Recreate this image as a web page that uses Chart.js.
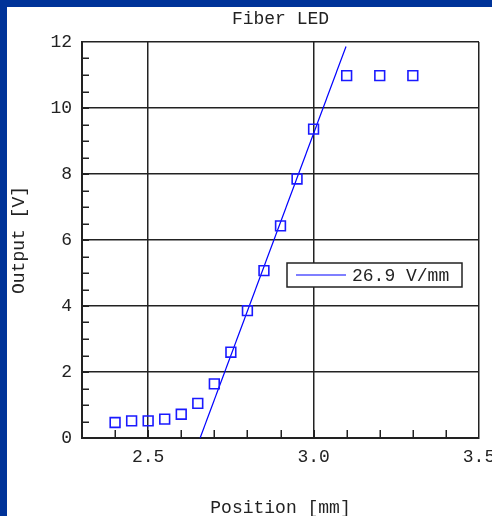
<!DOCTYPE html>
<html>
<head>
<meta charset="utf-8">
<script src="https://cdn.jsdelivr.net/npm/chart.js@4/dist/chart.umd.min.js"></script>
<style>
  html, body { margin: 0; padding: 0; background: #003399; overflow: hidden; }
  #frame { position: absolute; left: 7px; top: 7px; width: 485px; height: 509px; background: #ffffff; }
  canvas { display: block; }
</style>
</head>
<body>
<div id="frame"><canvas id="c" width="485" height="509"></canvas></div>
<script>
// Measured output voltage vs. fiber position
const positions = [2.40, 2.45, 2.50, 2.55, 2.60, 2.65, 2.70, 2.75, 2.80, 2.85, 2.90, 2.95, 3.00, 3.10, 3.20, 3.30];
const outputs   = [0.47, 0.52, 0.52, 0.57, 0.72, 1.05, 1.64, 2.60, 3.86, 5.07, 6.43, 7.85, 9.36, 10.98, 10.98, 10.98];

// Linear fit through the steep part of the response
const fitSlope = 26.9;           // V/mm
const fitRange = [2.657, 3.098]; // mm, x-intercept and end of the drawn fit
const fitLabel = fitSlope.toFixed(1) + ' V/mm';

// Axis ticks
const xTicks = [2.5, 3.0, 3.5];
const yTicks = [0, 2, 4, 6, 8, 10, 12];
const xMinorStep = 0.1;
const yMinorStep = 0.5;

const FONT = "'Liberation Mono', 'Courier New', monospace";
const INK = '#222222';
const BLUE = '#1a1aff';

const measured = positions.map((x, i) => ({ x: x, y: outputs[i] }));
const fitLine = fitRange.map(x => ({ x: x, y: fitSlope * (x - fitRange[0]) }));

// Small inward tick marks on the bottom and left axes
const minorTicks = {
  id: 'minorTicks',
  afterDraw(chart) {
    const { ctx, chartArea: a, scales: { x, y } } = chart;
    ctx.save();
    ctx.strokeStyle = INK;
    ctx.lineWidth = 1.5;
    ctx.beginPath();
    for (let v = x.min + xMinorStep; v < x.max - 1e-9; v += xMinorStep) {
      const px = Math.round(x.getPixelForValue(v)) + 0.25;
      ctx.moveTo(px, a.bottom);
      ctx.lineTo(px, a.bottom - 8);
    }
    for (let v = y.min + yMinorStep; v < y.max - 1e-9; v += yMinorStep) {
      const py = Math.round(y.getPixelForValue(v)) + 0.25;
      ctx.moveTo(a.left, py);
      ctx.lineTo(a.left + 7, py);
    }
    ctx.stroke();
    ctx.restore();
  }
};

// Boxed legend inside the plot for the fitted line
const fitLegend = {
  id: 'fitLegend',
  afterDraw(chart) {
    const { ctx, chartArea: a } = chart;
    const ds = chart.data.datasets[1];
    const bx = a.left + 205, by = a.top + 221, bw = 175, bh = 24;
    ctx.save();
    ctx.fillStyle = '#ffffff';
    ctx.fillRect(bx, by, bw, bh);
    ctx.strokeStyle = INK;
    ctx.lineWidth = 1.5;
    ctx.strokeRect(bx, by, bw, bh);
    const cy = by + bh / 2;
    ctx.strokeStyle = ds.borderColor;
    ctx.lineWidth = ds.borderWidth;
    ctx.beginPath();
    ctx.moveTo(bx + 9, cy);
    ctx.lineTo(bx + 59, cy);
    ctx.stroke();
    ctx.fillStyle = INK;
    ctx.font = '18px ' + FONT;
    ctx.textBaseline = 'middle';
    ctx.textAlign = 'left';
    ctx.fillText(ds.label, bx + 65, cy + 1);
    ctx.restore();
  }
};

new Chart(document.getElementById('c'), {
  type: 'scatter',
  data: {
    datasets: [
      {
        label: 'Output',
        data: measured,
        pointStyle: 'rect',
        pointRadius: 6.9,
        pointBorderWidth: 1.6,
        borderColor: BLUE,
        backgroundColor: 'rgba(0,0,0,0)',
        showLine: false
      },
      {
        label: fitLabel,
        data: fitLine,
        showLine: true,
        pointRadius: 0,
        borderColor: '#0000ff',
        borderWidth: 1.2,
        fill: false
      }
    ]
  },
  options: {
    responsive: false,
    animation: false,
    devicePixelRatio: 1,
    layout: { padding: { left: 0, right: 13, top: 0, bottom: 0 } },
    plugins: {
      legend: { display: false },
      tooltip: { enabled: false },
      title: {
        display: true,
        text: 'Fiber LED',
        fullSize: false,
        color: INK,
        font: { family: FONT, size: 18, weight: 'normal' },
        padding: { top: 1, bottom: 12.4 }
      }
    },
    scales: {
      x: {
        type: 'linear',
        min: 2.3,
        max: 3.5,
        afterBuildTicks(scale) { scale.ticks = xTicks.map(v => ({ value: v })); },
        afterFit(scale) { scale.height = 78; scale.paddingLeft = 0; scale.paddingRight = 0; },
        ticks: {
          color: INK,
          font: { family: FONT, size: 18 },
          padding: 8,
          maxRotation: 0,
          callback: v => Number(v).toFixed(1)
        },
        grid: { color: INK, lineWidth: 1.5, drawTicks: false },
        border: { display: true, color: INK, width: 2 },
        title: {
          display: true,
          text: 'Position [mm]',
          color: INK,
          font: { family: FONT, size: 18, lineHeight: 0.9 },
          padding: { top: 0, bottom: 0 }
        }
      },
      y: {
        type: 'linear',
        min: 0,
        max: 12,
        afterBuildTicks(scale) { scale.ticks = yTicks.map(v => ({ value: v })); },
        afterFit(scale) { scale.width = 75; scale.paddingTop = 0; scale.paddingBottom = 0; },
        ticks: {
          color: INK,
          font: { family: FONT, size: 18 },
          padding: 10
        },
        grid: { color: INK, lineWidth: 1.5, drawTicks: false },
        border: { display: true, color: INK, width: 2 },
        title: {
          display: true,
          text: 'Output [V]',
          color: INK,
          font: { family: FONT, size: 18 },
          padding: { top: 1, bottom: 0 }
        }
      }
    }
  },
  plugins: [minorTicks, fitLegend]
});
</script>
</body>
</html>
